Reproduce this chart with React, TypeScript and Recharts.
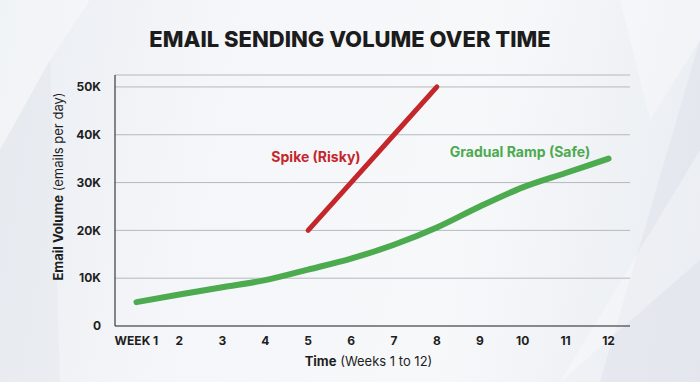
import { CartesianGrid, Label, Line, LineChart, XAxis, YAxis } from 'recharts'

const WEEKS = [1, 2, 3, 4, 5, 6, 7, 8, 9, 10, 11, 12]
const GRADUAL = [5000, 6600, 8100, 9600, 11800, 14100, 17000, 20600, 25000, 29000, 32000, 35000]
const SPIKE: (number | null)[] = [null, null, null, null, 20000, 30000, 40000, 50000, null, null, null, null]
const Y_TICKS = [0, 10000, 20000, 30000, 40000, 50000]

const data = WEEKS.map((w, i) => ({ week: w, gradual: GRADUAL[i], spike: SPIKE[i] }))

const FONT = 'Inter, "Noto Sans", sans-serif'
const RED = '#c4272b'
const GREEN = '#4caa4f'

const fmtY = (v: number) => (v === 0 ? '0' : `${v / 1000}K`)
const fmtX = (v: number) => (v === 1 ? 'WEEK 1' : String(v))

function YTitle({ viewBox }: any) {
  const cy = viewBox.y + viewBox.height / 2 - 14
  return (
    <text x={58} y={cy} transform={`rotate(-90 58 ${cy})`} textAnchor="middle" dominantBaseline="central" fontFamily={FONT} fontSize={13} fill="#1e1e1e">
      <tspan fontWeight={700}>Email Volume</tspan>
      <tspan fontWeight={400}> (emails per day)</tspan>
    </text>
  )
}

function XTitle({ viewBox }: any) {
  const cx = viewBox.x + viewBox.width / 2 - 4
  return (
    <text x={cx} y={361} textAnchor="middle" dominantBaseline="central" fontFamily={FONT} fontSize={13} fill="#1e1e1e">
      <tspan fontWeight={700}>Time</tspan>
      <tspan fontWeight={400}> (Weeks 1 to 12)</tspan>
    </text>
  )
}

export default function App() {
  return (
    <div
      style={{
        position: 'relative',
        width: 700,
        height: 382,
        overflow: 'hidden',
        background: 'linear-gradient(100deg, #e9edf2 0%, #f5f6f9 30%, #f7f8fa 65%, #e8ecf1 100%)',
        fontFamily: FONT,
      }}
    >
      <style>{'body{margin:0}'}</style>
      <svg width={700} height={382} style={{ position: 'absolute', left: 0, top: 0 }}>
        <polygon points="0,0 90,0 50,60 0,150" fill="#ffffff" opacity={0.35} />
        <polygon points="0,150 50,60 60,382 0,382" fill="#dfe4ea" opacity={0.35} />
        <polygon points="600,382 700,40 700,382" fill="#dde2e9" opacity={0.5} />
        <polygon points="560,382 700,150 700,260" fill="#ffffff" opacity={0.3} />
        <polygon points="620,0 700,0 700,40 650,120" fill="#ffffff" opacity={0.3} />
      </svg>
      <div
        style={{
          position: 'absolute',
          top: 26,
          left: 0,
          width: 700,
          textAlign: 'center',
          fontSize: 22,
          lineHeight: '26px',
          fontWeight: 800,
          color: '#1c1c1c',
        }}
      >
        EMAIL SENDING VOLUME OVER TIME
      </div>
      <div style={{ position: 'absolute', left: 0, top: 0 }}>
        <LineChart width={700} height={382} data={data} margin={{ top: 75, right: 70, bottom: 26, left: 55 }}>
          <CartesianGrid horizontal vertical={false} stroke="#b5b8be" strokeWidth={1} />
          <XAxis
            dataKey="week"
            type="number"
            domain={[0.5, 12.5]}
            ticks={WEEKS}
            tickFormatter={fmtX}
            height={30}
            axisLine={{ stroke: '#3a3a3a', strokeWidth: 1.2 }}
            tickLine={false}
            tick={{ fill: '#1e1e1e', fontSize: 12, fontWeight: 700, fontFamily: FONT }}
            tickMargin={4}
          >
            <Label content={<XTitle />} />
          </XAxis>
          <YAxis
            domain={[0, 52500]}
            ticks={Y_TICKS}
            tickFormatter={fmtY}
            width={60}
            axisLine={{ stroke: '#3a3a3a', strokeWidth: 1.2 }}
            tickLine={false}
            tick={{ fill: '#1e1e1e', fontSize: 12, fontWeight: 700, fontFamily: FONT }}
            tickMargin={8}
          >
            <Label content={<YTitle />} />
          </YAxis>
          <Line
            dataKey="gradual"
            type="monotone"
            stroke={GREEN}
            strokeWidth={6}
            strokeLinecap="round"
            dot={false}
            activeDot={false}
            isAnimationActive={false}
          />
          <Line
            dataKey="spike"
            type="linear"
            stroke={RED}
            strokeWidth={5}
            strokeLinecap="round"
            dot={false}
            activeDot={false}
            connectNulls={false}
            isAnimationActive={false}
          />
          <text x={316} y={156} textAnchor="middle" dominantBaseline="central" fontFamily={FONT} fontSize={14} fontWeight={700} fill={RED}>
            Spike (Risky)
          </text>
          <text x={520} y={151} textAnchor="middle" dominantBaseline="central" fontFamily={FONT} fontSize={14} fontWeight={700} fill={GREEN}>
            Gradual Ramp (Safe)
          </text>
        </LineChart>
      </div>
    </div>
  )
}
